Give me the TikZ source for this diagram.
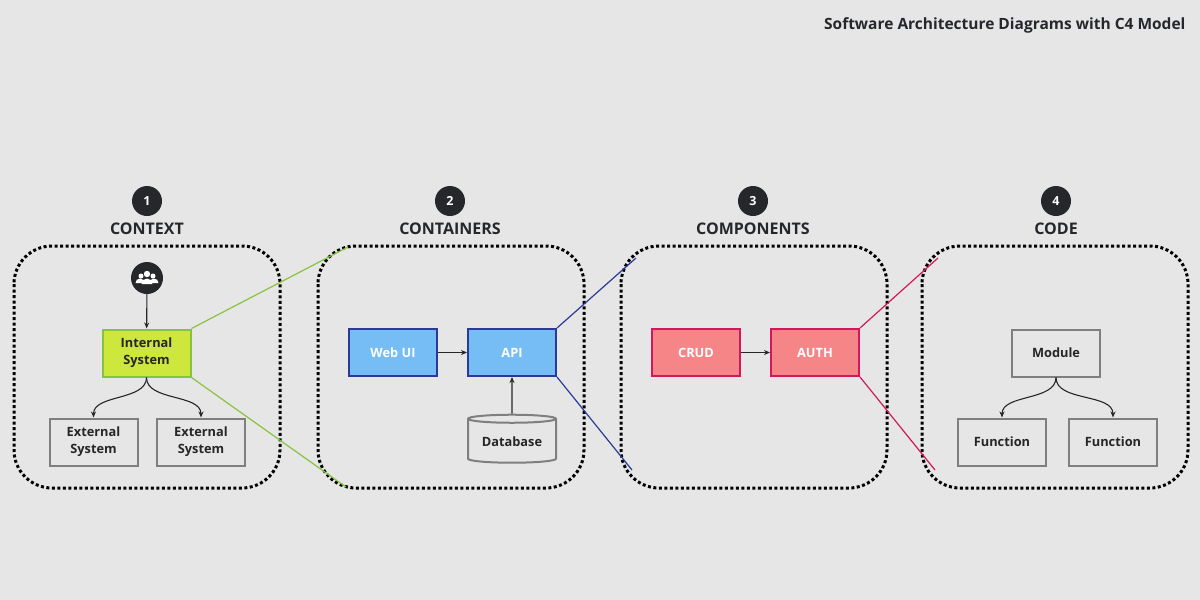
\documentclass[tikz,border=0pt]{standalone}
\usepackage{fontspec}
\setmainfont{Open Sans}
\usetikzlibrary{shapes.geometric,arrows.meta}
\definecolor{bg}{HTML}{E6E6E6}
\definecolor{dk}{HTML}{25272B}
\definecolor{gbox}{HTML}{7F7F7F}
\definecolor{lime}{HTML}{CDE73D}
\definecolor{limeb}{HTML}{86C440}
\definecolor{sky}{HTML}{76BDF5}
\definecolor{skyb}{HTML}{2B3A97}
\definecolor{pink}{HTML}{F58587}
\definecolor{pinkb}{HTML}{D0195C}
\tikzset{
 frame/.style={draw=black,line width=3pt,dash pattern=on 3pt off 2.5pt,rounded corners=38pt},
 gbx/.style={draw=gbox,line width=2pt,fill=bg,minimum width=88pt,minimum height=47pt,font=\bfseries\fontsize{12.8}{17}\selectfont,text=black!85,align=center},
 num/.style={circle,fill=dk,text=white,minimum size=30pt,inner sep=0pt,font=\bfseries\fontsize{12.5}{14}\selectfont},
 ttl/.style={font=\bfseries\fontsize{16}{18}\selectfont,text=dk},
 arr/.style={-{Stealth[length=6pt,width=5pt]},line width=1.1pt,draw=dk},
}
\begin{document}
\begin{tikzpicture}[x=1pt,y=-1pt]
\fill[bg] (0,0) rectangle (1200,600);
\useasboundingbox (0,0) rectangle (1200,600);
\node[anchor=east,font=\bfseries\fontsize{15.5}{17}\selectfont,text=dk] (title) at (1189,25) {Software Architecture Diagrams with C4 Model};
% frames
\draw[frame] (14,246) rectangle (280,488);
\draw[frame] (318,246) rectangle (584,488);
\draw[frame] (621,246) rectangle (887,488);
\draw[frame] (922,246) rectangle (1188,488);
\foreach \x/\n/\t [count=\i] in {147/1/CONTEXT,450/2/CONTAINERS,753/3/COMPONENTS,1056/4/CODE}{
 \node[num] (n\i) at (\x,201) {\n};
 \node[ttl] (t\i) at (\x,229) {\t};
}
% context
\node[circle,fill=dk,minimum size=32pt,inner sep=0pt] (user) at (147,278) {};
\begin{scope}[white]
 \fill (147,274) circle (3.2pt); \fill (141,276) circle (2.5pt); \fill (153,276) circle (2.5pt);
 \fill (135.5,283) arc[start angle=180,end angle=0,radius=4.5pt] -- cycle;
 \fill (149.5,283) arc[start angle=180,end angle=0,radius=4.5pt] -- cycle;
 \fill (141.5,284) arc[start angle=180,end angle=0,radius=5.5pt] -- cycle;
\end{scope}
\node[gbx,fill=lime,draw=limeb] (int) at (146.5,353) {Internal\\System};
\node[gbx] (ext1) at (93.5,442) {External\\System};
\node[gbx] (ext2) at (201,442) {External\\System};
\draw[arr] (user) -- (int);
\draw[arr] (int.south) to[out=-90,in=90,looseness=0.9] (ext1.north);
\draw[arr] (int.south) to[out=-90,in=90,looseness=0.9] (ext2.north);
% containers
\node[gbx,fill=sky,draw=skyb,text=white] (web) at (393,352.5) {Web UI};
\node[gbx,fill=sky,draw=skyb,text=white] (api) at (512,352.5) {API};
\node[cylinder,shape border rotate=90,aspect=0.12,draw=gbox,line width=2pt,fill=bg,minimum width=88pt,minimum height=48pt,font=\bfseries\fontsize{12.8}{15}\selectfont,text=black!85] (db) at (512,442) {Database};
\draw[arr] (web) -- (api);
\draw[arr] (db) -- (api);
% components
\node[gbx,fill=pink,draw=pinkb,text=white] (crud) at (696,352.5) {CRUD};
\node[gbx,fill=pink,draw=pinkb,text=white] (auth) at (815,352.5) {AUTH};
\draw[arr] (crud) -- (auth);
% code
\node[gbx] (mod) at (1056,353) {Module};
\node[gbx] (f1) at (1002,442) {Function};
\node[gbx] (f2) at (1113,442) {Function};
\draw[arr] (mod.south) to[out=-90,in=90,looseness=0.9] (f1.north);
\draw[arr] (mod.south) to[out=-90,in=90,looseness=0.9] (f2.north);
% zoom lines
\coordinate (g1) at (348,247); \coordinate (g2) at (346,487);
\coordinate (b1) at (636,258); \coordinate (b2) at (632,470);
\coordinate (r1) at (938,258); \coordinate (r2) at (935,470);
\draw[limeb,line width=1.2pt] (int.north east) -- (g1) (int.south east) -- (g2);
\draw[skyb,line width=1.2pt] (api.north east) -- (b1) (api.south east) -- (b2);
\draw[pinkb,line width=1.2pt] (auth.north east) -- (r1) (auth.south east) -- (r2);
\end{tikzpicture}
\end{document}
